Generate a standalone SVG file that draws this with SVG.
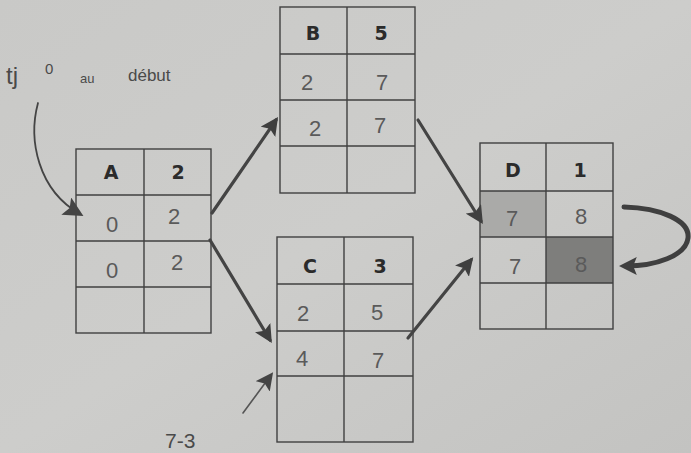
<svg xmlns="http://www.w3.org/2000/svg" width="691" height="453" viewBox="0 0 691 453">
  <defs>
    <linearGradient id="paper" x1="0" y1="0" x2="1" y2="1">
      <stop offset="0" stop-color="#c9c9c7"/>
      <stop offset="0.5" stop-color="#cdcdcb"/>
      <stop offset="1" stop-color="#c3c3c1"/>
    </linearGradient>
    <marker id="head" viewBox="0 0 10 10" refX="8" refY="5" markerWidth="5.6" markerHeight="5.6" orient="auto" markerUnits="strokeWidth">
      <path d="M0,0 L10,5 L0,10 L2,5 Z" fill="#3f3f3f"/>
    </marker>
    <marker id="headThin" viewBox="0 0 10 10" refX="8" refY="5" markerWidth="11" markerHeight="11" orient="auto" markerUnits="strokeWidth">
      <path d="M0,0 L10,5 L0,10 L2,5 Z" fill="#444"/>
    </marker>
    <marker id="headThick" viewBox="0 0 10 10" refX="6" refY="5" markerWidth="3.6" markerHeight="3.6" orient="auto" markerUnits="strokeWidth">
      <path d="M0,0 L10,5 L0,10 L2,5 Z" fill="#3f3f3f"/>
    </marker>
  </defs>
  <style>
    .grid { fill: none; stroke: #404040; stroke-width: 1.4; }
    .hd { font-family: "DejaVu Sans", "Liberation Sans", sans-serif; font-weight: bold; font-size: 19px; fill: #2b2b2b; text-anchor: middle; }
    .hw { font-family: "Liberation Sans", "DejaVu Sans", sans-serif; font-size: 22px; fill: #5a5a5a; text-anchor: middle; }
    .note { font-family: "Liberation Sans", "DejaVu Sans", sans-serif; fill: #4a4a4a; }
    .arr { fill: none; stroke: #444; stroke-width: 3.2; stroke-linecap: round; marker-end: url(#head); }
  </style>

  <rect width="691" height="453" fill="url(#paper)"/>

  <!-- start annotation -->
  <g id="note-start">
    <text class="note" x="6" y="84" font-size="24">tj</text>
    <text class="note" x="45" y="74" font-size="15">0</text>
    <text class="note" x="80" y="83" font-size="13">au</text>
    <text class="note" x="128" y="81" font-size="17">début</text>
  </g>

  <!-- node A -->
  <g id="node-A">
    <rect class="grid" x="76" y="149" width="135" height="184"/>
    <path class="grid" d="M144,149 V333 M76,195 H211 M76,241 H211 M76,287 H211"/>
    <text class="hd" x="111" y="179">A</text>
    <text class="hd" x="178" y="179">2</text>
    <text class="hw" x="112" y="232">0</text>
    <text class="hw" x="174" y="224">2</text>
    <text class="hw" x="112" y="278">0</text>
    <text class="hw" x="177" y="270">2</text>
  </g>

  <!-- node B -->
  <g id="node-B">
    <rect class="grid" x="280" y="7" width="135" height="186"/>
    <path class="grid" d="M347,7 V193 M280,54 H415 M280,100 H415 M280,146 H415"/>
    <text class="hd" x="313" y="40">B</text>
    <text class="hd" x="381" y="40">5</text>
    <text class="hw" x="307" y="90">2</text>
    <text class="hw" x="382" y="90">7</text>
    <text class="hw" x="315" y="136">2</text>
    <text class="hw" x="380" y="133">7</text>
  </g>

  <!-- node C -->
  <g id="node-C">
    <rect class="grid" x="277" y="237" width="136" height="205"/>
    <path class="grid" d="M344,237 V442 M277,284 H413 M277,331 H413 M277,376 H413"/>
    <text class="hd" x="310" y="273">C</text>
    <text class="hd" x="380" y="273">3</text>
    <text class="hw" x="303" y="321">2</text>
    <text class="hw" x="377" y="320">5</text>
    <text class="hw" x="302" y="366">4</text>
    <text class="hw" x="378" y="368">7</text>
  </g>

  <!-- node D -->
  <g id="node-D">
    <rect x="480" y="191" width="66" height="46" fill="#aaaaa8"/>
    <rect x="546" y="237" width="67" height="46" fill="#7e7e7c"/>
    <rect class="grid" x="480" y="143" width="133" height="186"/>
    <path class="grid" d="M546,143 V329 M480,191 H613 M480,237 H613 M480,283 H613"/>
    <text class="hd" x="513" y="177">D</text>
    <text class="hd" x="580" y="177">1</text>
    <text class="hw" x="512" y="226">7</text>
    <text class="hw" x="581" y="224">8</text>
    <text class="hw" x="515" y="274">7</text>
    <text class="hw" x="581" y="272">8</text>
  </g>

  <!-- bottom annotation -->
  <g id="note-end">
    <text class="note" x="165" y="448" font-size="21">7-3</text>
  </g>

  <!-- connectors -->
  <g id="connectors">
    <path class="arr" d="M212,213 L276,120"/>
    <path class="arr" d="M210,240 L270,340"/>
    <path class="arr" d="M418,120 L481,221"/>
    <path class="arr" d="M408,338 L471,260"/>
    <path d="M38,103 C28,140 38,190 80,214" fill="none" stroke="#444" stroke-width="1.8" stroke-linecap="round" marker-end="url(#headThin)"/>
    <path d="M243,413 L271,375" fill="none" stroke="#555" stroke-width="1.6" stroke-linecap="round" marker-end="url(#headThin)"/>
    <path d="M624,207 C660,208 690,220 688,238 C686,256 655,266 626,266" fill="none" stroke="#3f3f3f" stroke-width="5" stroke-linecap="round" marker-end="url(#headThick)"/>
  </g>
</svg>
